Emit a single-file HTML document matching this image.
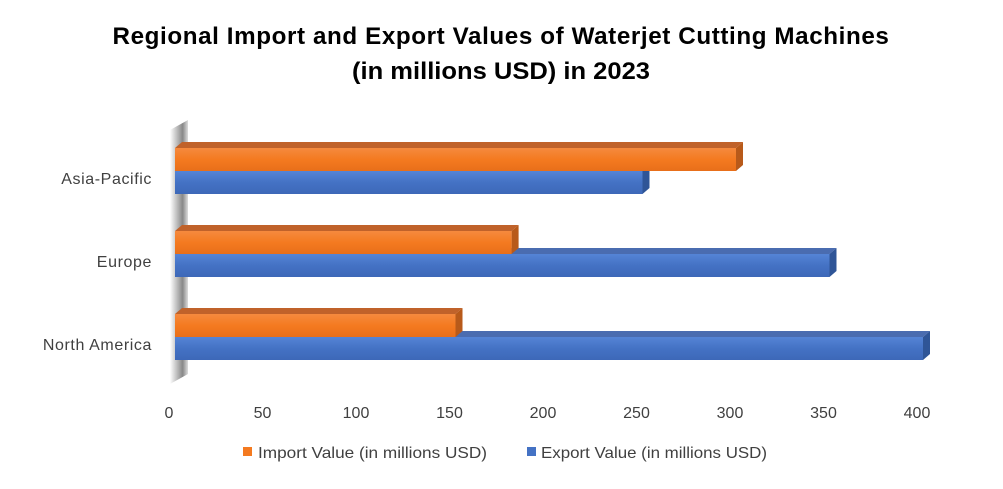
<!DOCTYPE html>
<html><head><meta charset="utf-8"><style>
body{margin:0;background:#fff;font-family:"Liberation Sans",sans-serif}
</style></head><body>
<svg width="1003" height="484" viewBox="0 0 1003 484">
<defs>
<linearGradient id="og" x1="0" y1="0" x2="0" y2="1"><stop offset="0" stop-color="#f58a3e"/><stop offset="0.5" stop-color="#f47a20"/><stop offset="1" stop-color="#e86f1a"/></linearGradient>
<linearGradient id="bg" x1="0" y1="0" x2="0" y2="1"><stop offset="0" stop-color="#5584d6"/><stop offset="0.5" stop-color="#4472c4"/><stop offset="1" stop-color="#3d68b8"/></linearGradient>
<linearGradient id="wg" x1="0" y1="0" x2="1" y2="0"><stop offset="0" stop-color="#fff"/><stop offset="0.4" stop-color="#bbb"/><stop offset="0.7" stop-color="#888"/><stop offset="1" stop-color="#ddd"/></linearGradient>
</defs>
<text x="501" y="44" text-anchor="middle" font-size="24" letter-spacing="0.6" font-weight="bold" fill="#000" textLength="777" lengthAdjust="spacingAndGlyphs">Regional Import and Export Values of Waterjet Cutting Machines</text>
<text x="501" y="79" text-anchor="middle" font-size="24" font-weight="bold" fill="#000" textLength="298" lengthAdjust="spacingAndGlyphs">(in millions USD) in 2023</text>
<polygon points="170,130 188,120 188,374 170,384" fill="url(#wg)"/>
<g id="bars"></g>
<g id="cats"></g>
<g id="ticks"></g>
<rect x="243" y="447" width="9" height="9" fill="#f47a20"/>
<text x="258" y="458" font-size="16" fill="#404040" textLength="229" lengthAdjust="spacingAndGlyphs">Import Value (in millions USD)</text>
<rect x="527" y="447" width="9" height="9" fill="#4472c4"/>
<text x="541" y="458" font-size="16" fill="#404040" textLength="226" lengthAdjust="spacingAndGlyphs">Export Value (in millions USD)</text>
</svg>
<script>
const categories=["Asia-Pacific","Europe","North America"];
const importValues=[300,180,150];
const exportValues=[250,350,400];
const tickLabels=[0,50,100,150,200,250,300,350,400];
const NS="http://www.w3.org/2000/svg";
const x0=175, sc=1.87, dx=7, dy=6;
function xs(v){return x0+v*sc;}
function catY(i){return 148+i*83;}
function mk(t,a,p){const e=document.createElementNS(NS,t);for(const k in a)e.setAttribute(k,a[k]);p.appendChild(e);return e;}
const bars=document.getElementById('bars');
function bar(y,v,fill,top,side,name){
  const g=mk('g',{},bars);
  
  
  const x1=xs(v),h=23;
  mk('polygon',{points:`${x0},${y} ${x0+dx},${y-dy} ${x1+dx},${y-dy} ${x1},${y}`,fill:top},g);
  mk('polygon',{points:`${x1},${y} ${x1+dx},${y-dy} ${x1+dx},${y+h-dy} ${x1},${y+h}`,fill:side},g);
  mk('rect',{x:x0,y:y,width:x1-x0,height:h,fill:fill},g);
}
categories.forEach((c,i)=>{
  const y=catY(i);
  bar(y+23,exportValues[i],'url(#bg)','#4a6cb0','#2f5597','bar-export-'+i);
  bar(y,importValues[i],'url(#og)','#c0622a','#b85a1a','bar-import-'+i);
  const t=mk('text',{x:152,y:y+36,'text-anchor':'end','font-size':16,'letter-spacing':0.6,fill:'#404040'},document.getElementById('cats'));
  
  
  t.textContent=c;
});
const tk=document.getElementById('ticks');
tickLabels.forEach(v=>{
  const t=mk('text',{x:169+v*1.87,y:418,'text-anchor':'middle','font-size':16,fill:'#404040'},tk);
  
  
  t.textContent=v;
});
</script>
</body></html>
